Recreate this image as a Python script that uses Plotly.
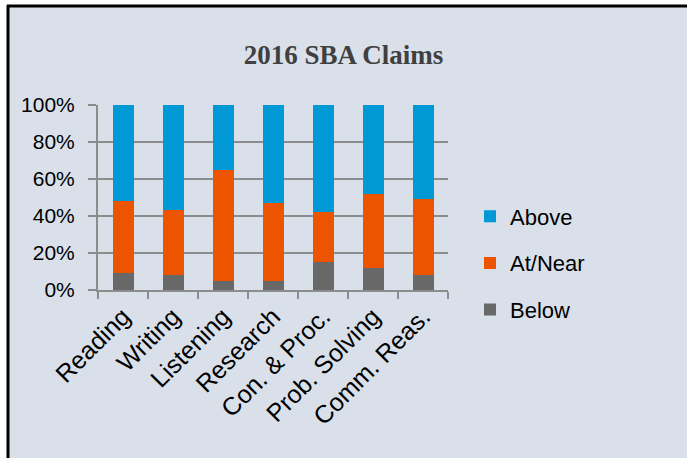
import plotly.graph_objects as go

categories = ["Reading", "Writing", "Listening", "Research", "Con. & Proc.", "Prob. Solving", "Comm. Reas."]
below = [0.09, 0.08, 0.05, 0.05, 0.15, 0.12, 0.08]
at_near = [0.39, 0.35, 0.60, 0.42, 0.27, 0.40, 0.41]
above = [0.52, 0.57, 0.35, 0.53, 0.58, 0.48, 0.51]
y_ticks = [0, 0.2, 0.4, 0.6, 0.8, 1.0]

W, H = 687, 458
L, R, T, B = 98, 239, 105, 168
PW, PH = W - L - R, H - T - B


def px(x):
    return (x - L) / PW


def py(y):
    return (H - B - y) / PH


bg = "#D9E0EA"
grid = "#8C8C8C"

fig = go.Figure()
for name, vals, col, rank in [("Below", below, "#686868", 3),
                              ("At/Near", at_near, "#EC5400", 2),
                              ("Above", above, "#0099D6", 1)]:
    fig.add_trace(go.Bar(x=categories, y=vals, name=name, marker_color=col,
                         marker_line_width=0, legendgroup=name, legendrank=rank))

fig.update_layout(
    width=W, height=H,
    margin=dict(l=L, r=R, t=T, b=B, autoexpand=False),
    barmode="stack", bargap=0.58,
    paper_bgcolor=bg, plot_bgcolor=bg,
    title=dict(text="<b>2016 SBA Claims</b>", x=0.5, xref="container", xanchor="center",
               y=1 - 55 / H, yref="container", yanchor="middle",
               font=dict(family="Liberation Serif", size=27, color="#404040")),
    font=dict(family="Liberation Sans", color="#000000"),
    legend=dict(x=px(470), xanchor="left", y=py(263), yanchor="middle",
                traceorder="grouped", tracegroupgap=15,
                font=dict(size=22), bgcolor="rgba(0,0,0,0)"),
    xaxis=dict(type="category", tickson="boundaries", ticks="outside", ticklen=7,
               tickcolor=grid, tickwidth=2, showline=True, linecolor=grid, linewidth=2,
               tickangle=-45, tickfont=dict(size=25), showgrid=False),
    yaxis=dict(range=[0, 1], tickvals=y_ticks, tickformat=".0%", ticks="outside",
               ticklen=8, tickcolor=grid, tickwidth=2, showline=True, linecolor=grid,
               linewidth=2, showgrid=True, gridcolor=grid, gridwidth=2,
               tickfont=dict(size=21), zeroline=False, ticklabelstandoff=9),
    shapes=[
        dict(type="rect", xref="paper", yref="paper", x0=px(0), x1=px(7), y0=py(H), y1=py(0),
             fillcolor="white", line_width=0, layer="below"),
        dict(type="rect", xref="paper", yref="paper", x0=px(0), x1=px(W), y0=py(5), y1=py(0),
             fillcolor="white", line_width=0, layer="below"),
        dict(type="line", xref="paper", yref="paper", x0=px(8), x1=px(8), y0=py(5), y1=py(H),
             line=dict(color="black", width=3)),
        dict(type="line", xref="paper", yref="paper", x0=px(7), x1=px(W), y0=py(6), y1=py(6),
             line=dict(color="black", width=3)),
    ],
)

fig.write_html("out.html", config={"displayModeBar": False},
               post_script="document.body.style.margin='0';document.body.style.padding='0';")
